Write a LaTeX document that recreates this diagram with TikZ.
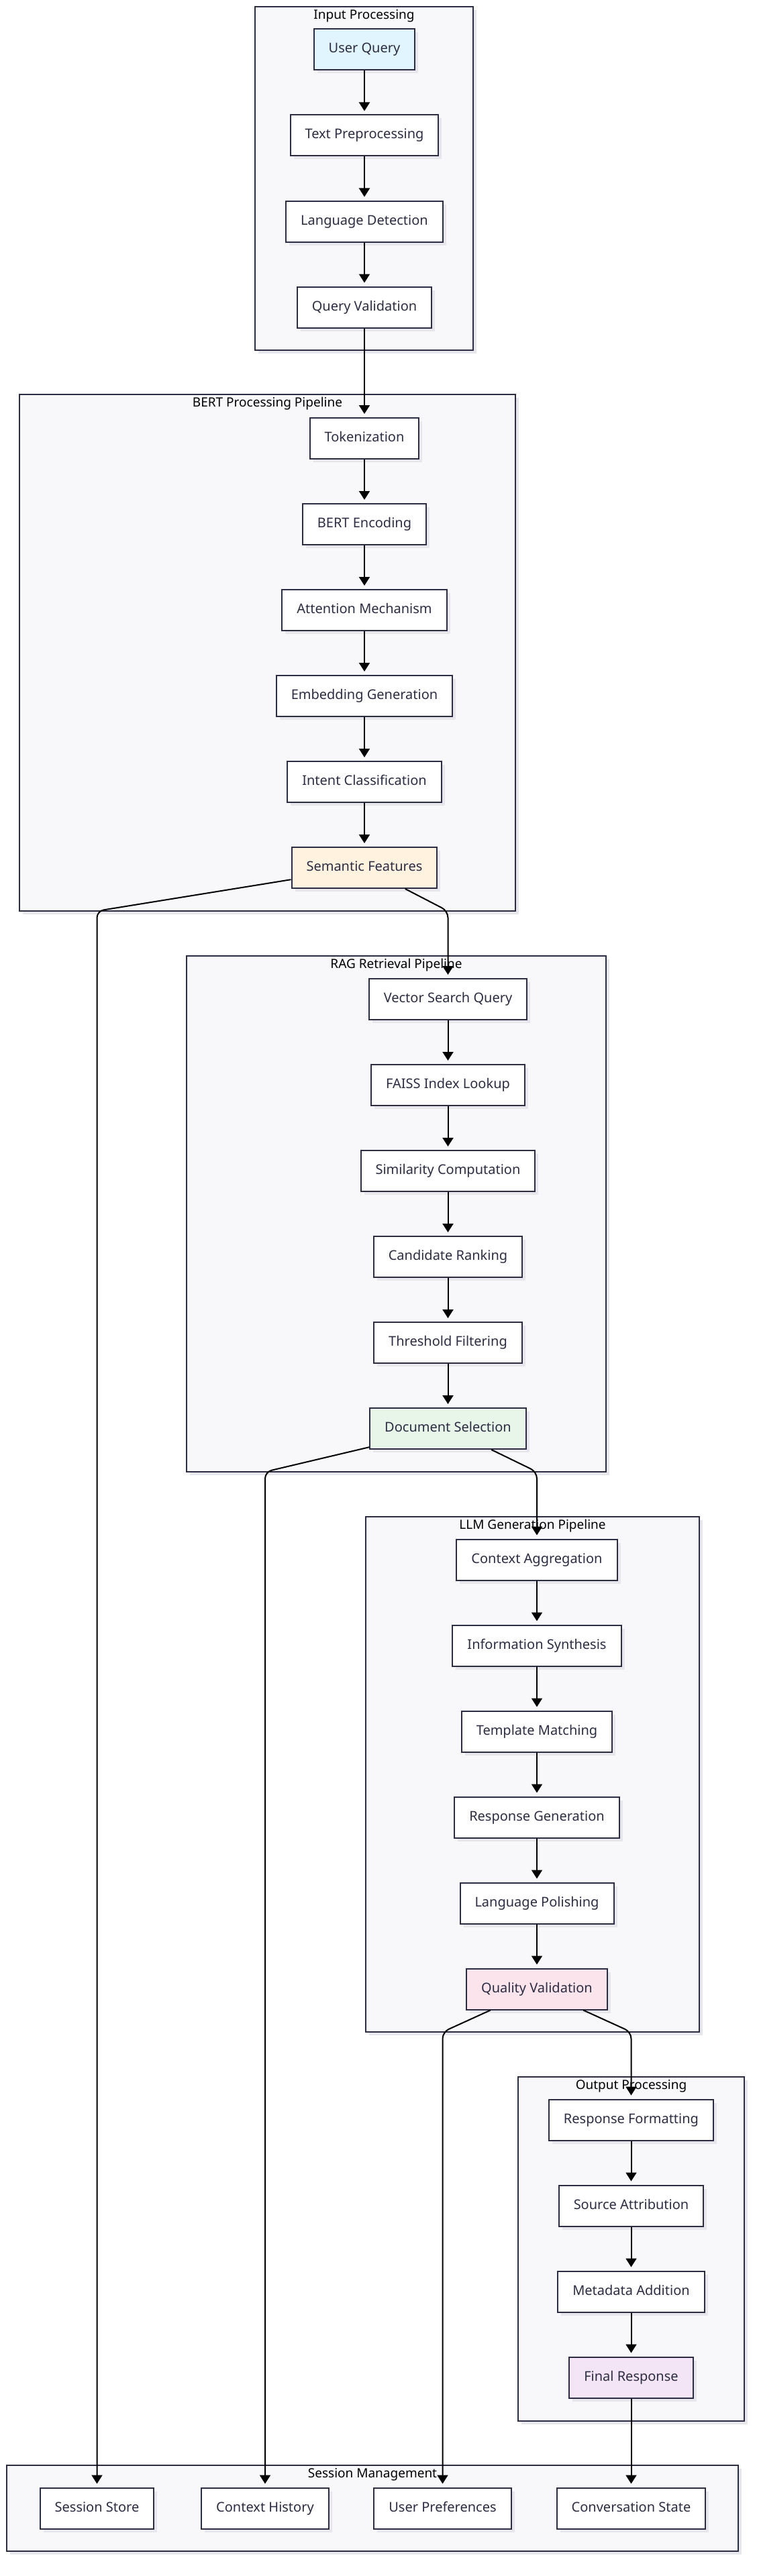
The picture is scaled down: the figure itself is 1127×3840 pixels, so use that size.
\documentclass[tikz,border=0pt]{standalone}
\usepackage{fontspec}
\setmainfont{Noto Sans}
\usetikzlibrary{arrows.meta,shadows}

\definecolor{navy}{RGB}{44,44,66}
\definecolor{groupbg}{RGB}{248,248,250}
\definecolor{shadowgray}{RGB}{230,230,236}
\definecolor{queryblue}{HTML}{E1F5FE}
\definecolor{featorange}{HTML}{FFF3E0}
\definecolor{docgreen}{HTML}{E8F5E9}
\definecolor{qualpink}{HTML}{FCE4EC}
\definecolor{finalpurple}{HTML}{F3E5F5}

\begin{document}
\begin{tikzpicture}[x=1pt,y=-1pt,
  box/.style={draw=navy,line width=2pt,fill=white,text=navy,inner xsep=22pt,
    minimum height=61pt,text height=14.5pt,text depth=4.5pt,font=\fontsize{20}{24}\selectfont,
    general shadow={fill=shadowgray,shadow xshift=5pt,shadow yshift=-5pt}},
  group/.style={draw=navy,line width=2pt,fill=groupbg,
    preaction={fill=shadowgray,transform canvas={xshift=5pt,yshift=-5pt}}},
  grouptitle/.style={anchor=north,inner sep=0pt,text=black,font=\fontsize{19}{23}\selectfont},
  flow/.style={line width=2pt,-{Triangle[width=16pt,length=13pt]},shorten >=5pt},
  bentflow/.style={flow,rounded corners=10pt}]
  \useasboundingbox[fill=white] (0,0) rectangle (1127,3840);

  \draw[group] (380,10) rectangle (705,522);
  \draw[group] (29,588) rectangle (768,1358);
  \draw[group] (278,1425) rectangle (903,2194);
  \draw[group] (545,2261) rectangle (1042,3029);
  \draw[group] (772,3096) rectangle (1109,3609);
  \draw[group] (10,3675) rectangle (1100,3803);

  \node[grouptitle] (tin) at (542.5,14) {Input Processing};
  \node[grouptitle] (tbert) at (398.5,592) {BERT Processing Pipeline};
  \node[grouptitle] (trag) at (590.5,1429) {RAG Retrieval Pipeline};
  \node[grouptitle] (tllm) at (793.5,2265) {LLM Generation Pipeline};
  \node[grouptitle] (tout) at (940.5,3100) {Output Processing};
  \node[grouptitle] (tses) at (555,3679) {Session Management};

  \node[box,fill=queryblue] (uq) at (543,74) {User Query};
  \node[box] (tp) at (543,202) {Text Preprocessing};
  \node[box] (ld) at (543,330) {Language Detection};
  \node[box] (qv) at (543,458) {Query Validation};

  \node[box] (tok) at (543,653.5) {Tokenization};
  \node[box] (enc) at (543,781.5) {BERT Encoding};
  \node[box] (att) at (543,909.5) {Attention Mechanism};
  \node[box] (emb) at (543,1037.5) {Embedding Generation};
  \node[box] (intc) at (543,1165.5) {Intent Classification};
  \node[box,fill=featorange] (sem) at (543,1293.5) {Semantic Features};

  \node[box] (vsq) at (667.5,1489.5) {Vector Search Query};
  \node[box] (faiss) at (667.5,1617.5) {FAISS Index Lookup};
  \node[box] (sim) at (667.5,1745.5) {Similarity Computation};
  \node[box] (rank) at (667.5,1873.5) {Candidate Ranking};
  \node[box] (thr) at (667.5,2001.5) {Threshold Filtering};
  \node[box,fill=docgreen] (doc) at (667.5,2129.5) {Document Selection};

  \node[box] (ctx) at (800,2325) {Context Aggregation};
  \node[box] (syn) at (800,2453) {Information Synthesis};
  \node[box] (tpl) at (800,2581) {Template Matching};
  \node[box] (gen) at (800,2709) {Response Generation};
  \node[box] (pol) at (800,2837) {Language Polishing};
  \node[box,fill=qualpink] (qual) at (800,2965) {Quality Validation};

  \node[box] (fmt) at (940.5,3160) {Response Formatting};
  \node[box] (src) at (940.5,3288) {Source Attribution};
  \node[box] (meta) at (940.5,3416) {Metadata Addition};
  \node[box,fill=finalpurple] (fin) at (940.5,3544) {Final Response};

  \node[box] (store) at (144.5,3739) {Session Store};
  \node[box] (hist) at (395,3739) {Context History};
  \node[box] (pref) at (659.5,3739) {User Preferences};
  \node[box] (conv) at (940.5,3739) {Conversation State};

  \coordinate (c1) at (144.5,1358);
  \coordinate (c2) at (667.5,1358);
  \coordinate (c3) at (395,2194);
  \coordinate (c4) at (800,2194);
  \coordinate (c5) at (659.5,3029);
  \coordinate (c6) at (940.5,3029);

  \draw[flow] (uq) -- (tp);
  \draw[flow] (tp) -- (ld);
  \draw[flow] (ld) -- (qv);
  \draw[flow] (qv) -- (tok);
  \draw[flow] (tok) -- (enc);
  \draw[flow] (enc) -- (att);
  \draw[flow] (att) -- (emb);
  \draw[flow] (emb) -- (intc);
  \draw[flow] (intc) -- (sem);
  \draw[bentflow] (sem) -- (c2) -- (vsq);
  \draw[bentflow] (sem) -- (c1) -- (store);
  \draw[flow] (vsq) -- (faiss);
  \draw[flow] (faiss) -- (sim);
  \draw[flow] (sim) -- (rank);
  \draw[flow] (rank) -- (thr);
  \draw[flow] (thr) -- (doc);
  \draw[bentflow] (doc) -- (c4) -- (ctx);
  \draw[bentflow] (doc) -- (c3) -- (hist);
  \draw[flow] (ctx) -- (syn);
  \draw[flow] (syn) -- (tpl);
  \draw[flow] (tpl) -- (gen);
  \draw[flow] (gen) -- (pol);
  \draw[flow] (pol) -- (qual);
  \draw[bentflow] (qual) -- (c6) -- (fmt);
  \draw[bentflow] (qual) -- (c5) -- (pref);
  \draw[flow] (fmt) -- (src);
  \draw[flow] (src) -- (meta);
  \draw[flow] (meta) -- (fin);
  \draw[flow] (fin) -- (conv);
\end{tikzpicture}
\end{document}
